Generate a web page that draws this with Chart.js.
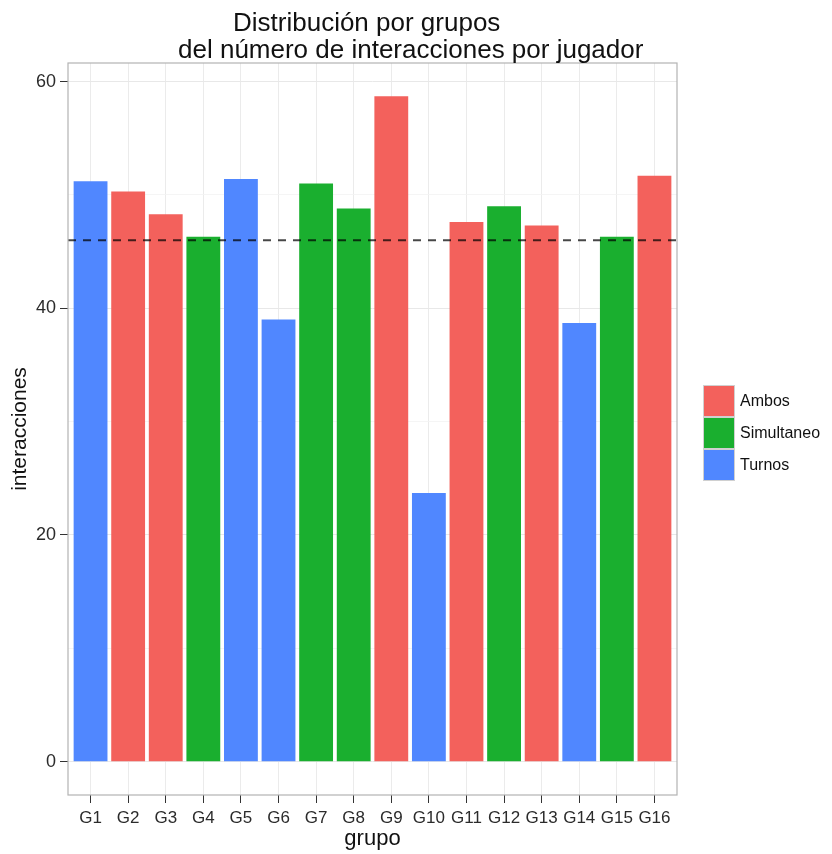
<!DOCTYPE html>
<html lang="es">
<head>
  <meta charset="UTF-8" />
  <title>Interacciones por grupo</title>
  <script src="https://cdn.jsdelivr.net/npm/chart.js"></script>
  <style>
    body { margin: 0; background: #fff; }
  </style>
</head>
<body>
  <canvas id="groupChart" width="832" height="854"></canvas>

  <script>
    // data
    const groups = ['G1', 'G2', 'G3', 'G4', 'G5', 'G6', 'G7', 'G8', 'G9', 'G10', 'G11', 'G12', 'G13', 'G14', 'G15', 'G16'];
    const interactions = [51.2, 50.3, 48.3, 46.3, 51.4, 39.0, 51.0, 48.8, 58.7, 23.7, 47.6, 49.0, 47.3, 38.7, 46.3, 51.7];
    const groupType = ['Turnos', 'Ambos', 'Ambos', 'Simultaneo', 'Turnos', 'Turnos', 'Simultaneo', 'Simultaneo',
                       'Ambos', 'Turnos', 'Ambos', 'Simultaneo', 'Ambos', 'Turnos', 'Simultaneo', 'Ambos'];
    const types = ['Ambos', 'Simultaneo', 'Turnos'];
    const typeColors = ['#F3615C', '#1AAF2F', '#5087FF'];
    const referenceLine = 46.0;
    const yTicks = [0, 10, 20, 30, 40, 50, 60];

    const FONT = '"Liberation Sans", Arial, Helvetica, sans-serif';

    // ggplot-like expansion of the axes
    const yPad = Math.max(...interactions) * 0.05;
    const yMin = -yPad, yMax = Math.max(...interactions) + yPad;
    const xMin = 1 - 0.6, xMax = groups.length + 0.6;

    const barSets = types.map((t, k) => ({
      type: 'bar',
      label: t,
      data: groups.map((g, i) => groupType[i] === t ? { x: i + 1, y: interactions[i] } : null).filter(p => p),
      backgroundColor: typeColors[k],
      borderWidth: 0,
      grouped: false,
      barPercentage: 0.9,
      categoryPercentage: 1,
      order: 1
    }));

    const lineSet = {
      type: 'line',
      label: 'media',
      data: [{ x: xMin, y: referenceLine }, { x: xMax, y: referenceLine }],
      borderColor: 'rgba(0,0,0,0.72)',
      borderWidth: 2,
      borderDash: [8, 7],
      pointRadius: 0,
      order: 0
    };

    // white page, panel border, title and legend
    const decorations = {
      id: 'decorations',
      beforeDraw(chart) {
        const c = chart.ctx;
        c.save();
        c.fillStyle = '#fff';
        c.fillRect(0, 0, chart.width, chart.height);
        c.restore();
      },
      afterDraw(chart) {
        const c = chart.ctx;
        const a = chart.chartArea;
        c.save();
        c.strokeStyle = '#b3b3b3';
        c.lineWidth = 1.2;
        c.strokeRect(a.left, a.top, a.right - a.left, a.bottom - a.top);

        c.fillStyle = '#111';
        c.font = '26px ' + FONT;
        c.textBaseline = 'alphabetic';
        c.textAlign = 'left';
        c.fillText('Distribución por grupos', 233, 31);
        c.fillText('del número de interacciones por jugador', 178, 58);

        // legend
        const box = 32;
        const lx = a.right + 26;
        let ly = (a.top + a.bottom) / 2 + 4 - box * types.length / 2;
        c.font = '16px ' + FONT;
        c.textBaseline = 'middle';
        chart.data.datasets.filter(d => d.type === 'bar').forEach(d => {
          c.fillStyle = d.backgroundColor;
          c.fillRect(lx, ly, box, box);
          c.strokeStyle = '#d0d0d0';
          c.lineWidth = 1;
          c.strokeRect(lx + 0.5, ly + 0.5, box - 1, box - 1);
          c.fillStyle = '#111';
          c.fillText(d.label, lx + box + 5, ly + box / 2 + 1);
          ly += box;
        });
        c.restore();
      }
    };

    const ctx = document.getElementById('groupChart').getContext('2d');
    const groupChart = new Chart(ctx, {
      data: { datasets: [...barSets, lineSet] },
      options: {
        responsive: false,
        animation: false,
        devicePixelRatio: 1,
        layout: { padding: { top: 63, right: 155, left: 0, bottom: 0 } },
        plugins: {
          legend: { display: false },
          tooltip: { enabled: false },
          title: { display: false }
        },
        scales: {
          x: {
            type: 'linear',
            min: xMin,
            max: xMax,
            offset: false,
            afterBuildTicks: s => { s.ticks = groups.map((g, i) => ({ value: i + 1 })); },
            afterFit: s => { s.height = 59; },
            border: { display: false },
            grid: { offset: false, color: '#ebebeb', lineWidth: 1, tickLength: 8, tickColor: '#333' },
            ticks: {
              autoSkip: false,
              maxRotation: 0,
              padding: 5,
              color: '#2b2b2b',
              font: { family: FONT, size: 17 },
              callback: v => groups[v - 1] || ''
            },
            title: {
              display: true,
              text: 'grupo',
              color: '#111',
              font: { family: FONT, size: 22 },
              padding: { top: 0, bottom: 2 }
            }
          },
          y: {
            min: yMin,
            max: yMax,
            afterBuildTicks: s => { s.ticks = yTicks.map(v => ({ value: v })); },
            afterFit: s => { s.width = 68; },
            border: { display: false },
            grid: {
              color: c => c.tick && c.tick.value % 20 === 0 ? '#e8e8e8' : '#f3f3f3',
              lineWidth: c => c.tick && c.tick.value % 20 === 0 ? 1 : 0.8,
              tickLength: 8,
              tickColor: c => c.tick && c.tick.value % 20 === 0 ? '#333' : 'rgba(0,0,0,0)'
            },
            ticks: {
              padding: 4,
              color: '#2b2b2b',
              font: { family: FONT, size: 18 },
              callback: v => v % 20 === 0 ? v : ''
            },
            title: {
              display: true,
              text: 'interacciones',
              color: '#111',
              font: { family: FONT, size: 21 },
              padding: { top: 8, bottom: 0 }
            }
          }
        }
      },
      plugins: [decorations]
    });
  </script>
</body>
</html>
